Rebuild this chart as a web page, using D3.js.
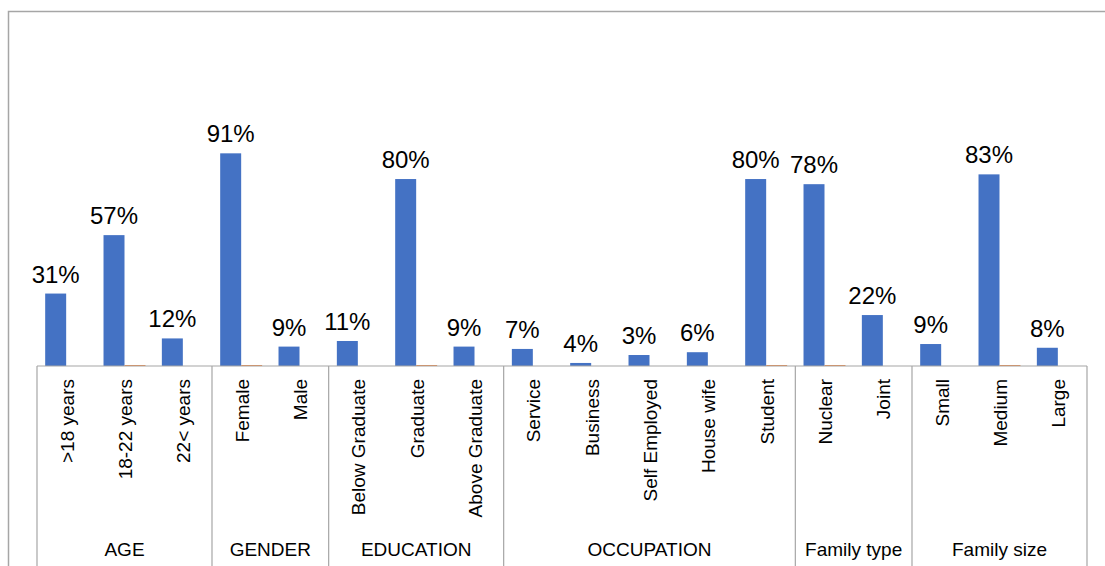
<!DOCTYPE html>
<html>
<head>
<meta charset="utf-8">
<script src="https://cdn.jsdelivr.net/npm/d3@7"></script>
<style>
  body { margin: 0; background: #fff; }
  svg { display: block; }
  text { font-family: "Liberation Sans", Arial, sans-serif; fill: #000; }
</style>
</head>
<body>
<div id="main"></div>
<script>
// categories, in order, with their group
const categories = [">18 years", "18-22 years", "22< years", "Female", "Male",
  "Below Graduate", "Graduate", "Above Graduate",
  "Service", "Business", "Self Employed", "House wife", "Student",
  "Nuclear", "Joint", "Small", "Medium", "Large"];
const groups = ["AGE", "GENDER", "EDUCATION", "OCCUPATION", "Family type", "Family size"];
const groupSizes = [3, 2, 3, 5, 2, 3];
// bar heights as drawn (share of respondents)
const shares = [0.31, 0.56, 0.118, 0.91, 0.083, 0.107, 0.80, 0.083,
  0.073, 0.013, 0.047, 0.059, 0.80, 0.778, 0.218, 0.094, 0.82, 0.078];
// data labels as printed
const shareLabels = ["31%", "57%", "12%", "91%", "9%", "11%", "80%", "9%",
  "7%", "4%", "3%", "6%", "80%", "78%", "22%", "9%", "83%", "8%"];
// second series, almost zero
const second = [0, 0.004, 0, 0.004, 0, 0, 0.004, 0,
  0, 0, 0, 0, 0.004, 0.004, 0, 0, 0.004, 0];

const width = 1105, height = 566;
const left = 37, right = 1087, base = 366;

const svg = d3.select('#main').append('svg').attr('width', width).attr('height', height);

// outer frame (left and top edges visible)
svg.append('path').attr('d', `M8.5,${height} V11.5 H${width}`)
  .attr('fill', 'none').attr('stroke', '#a6a6a6').attr('stroke-width', 1.5);

const x = d3.scaleBand().domain(categories).range([left, right]).padding(0);
const xs = d3.scaleBand().domain(['a', 'b']).range([0, x.bandwidth()]).paddingInner(0).paddingOuter(0.39);
const y = d3.scaleLinear().domain([0, 1]).range([base, base - 233.7]);

// bars
svg.append('g').selectAll('rect').data(categories).join('rect')
  .attr('x', d => x(d) + xs('a'))
  .attr('width', xs.bandwidth())
  .attr('y', (d, i) => y(shares[i]))
  .attr('height', (d, i) => base - y(shares[i]))
  .attr('fill', '#4472c4');

svg.append('g').selectAll('rect').data(categories).join('rect')
  .attr('x', d => x(d) + xs('b'))
  .attr('width', xs.bandwidth())
  .attr('y', (d, i) => y(second[i]))
  .attr('height', (d, i) => base - y(second[i]))
  .attr('fill', '#ed7d31');

// data labels
svg.append('g').selectAll('text').data(categories).join('text')
  .attr('x', d => x(d) + xs('a') + xs.bandwidth() / 2)
  .attr('y', (d, i) => y(shares[i]) - 11)
  .attr('text-anchor', 'middle')
  .attr('font-size', 24)
  .text((d, i) => shareLabels[i]);

// axis line
svg.append('line').attr('x1', left).attr('x2', right).attr('y1', base).attr('y2', base)
  .attr('stroke', '#a6a6a6').attr('stroke-width', 1.2);

// group separators
let bounds = [0];
groupSizes.forEach(n => bounds.push(bounds[bounds.length - 1] + n));
const bx = i => left + i * x.step();
svg.append('g').selectAll('line').data(bounds).join('line')
  .attr('x1', d => bx(d)).attr('x2', d => bx(d))
  .attr('y1', base).attr('y2', height)
  .attr('stroke', '#a6a6a6').attr('stroke-width', 1.2);

// category labels, rotated
svg.append('g').selectAll('text').data(categories).join('text')
  .attr('transform', d => `translate(${x(d) + x.bandwidth() / 2 + 1},379) rotate(-90)`)
  .attr('text-anchor', 'end')
  .attr('dy', '0.35em')
  .attr('font-size', 19)
  .text(d => d);

// group labels
svg.append('g').selectAll('text').data(groups).join('text')
  .attr('x', (d, i) => (bx(bounds[i]) + bx(bounds[i + 1])) / 2)
  .attr('y', 556)
  .attr('text-anchor', 'middle')
  .attr('font-size', 19)
  .text(d => d);
</script>
</body>
</html>
